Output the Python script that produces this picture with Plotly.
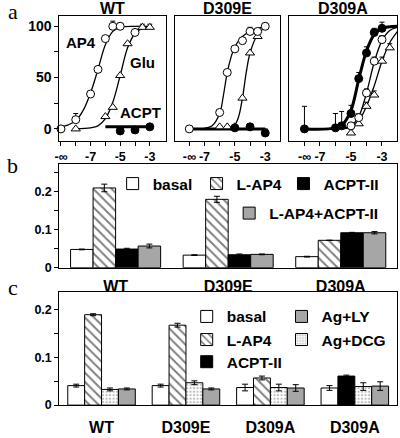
import plotly.graph_objects as go

W, H = 400, 438
def fx(p): return p / W
def fy(p): return 1 - p / H

FONT = "Liberation Sans, Arial, sans-serif"
SERIF = "Liberation Serif, Times New Roman, serif"

# ---------------- Panel a: concentration-response (log10 M; -inf at leftmost tick) ----------------
wt_ap4_x = [-9, -8, -7, -6.5, -6, -5.5, -5, -4]
wt_ap4_y = [0, 9, 34, 58, 88, 100, 100, 94]
wt_ap4_err = [0, 6, 0, 0, 0, 5, 3, 3]
wt_glu_x = [-8, -6, -5.5, -5, -4.5, -3.5, -3]
wt_glu_y = [0, 12, 21, 52, 83, 99, 99]
wt_glu_err = [0, 0, 0, 0, 0, 3, 3]
wt_acpt_x = [-5, -4, -3]
wt_acpt_y = [-2, -1, 2]
wt_ap4_fit_x = [-9, -8.5, -8, -7.5, -7, -6.5, -6, -5.5, -5, -4, -3]
wt_ap4_fit_y = [2, 4, 8, 18, 35, 58, 82, 95, 99, 100, 100]
wt_glu_fit_x = [-8, -7, -6.5, -6, -5.5, -5, -4.5, -4, -3.5, -3]
wt_glu_fit_y = [0, 1, 3, 10, 26, 52, 79, 93, 98, 99.5]
wt_acpt_fit_x = [-6, -3]
wt_acpt_fit_y = [2, 2]

e_ap4_x = [-8, -6, -5.5, -5, -4.5, -4, -3.5, -3]
e_ap4_y = [0, 16, 55, 78, 86, 95, 95, 100]
e_ap4_err = [0, 0, 0, 0, 0, 4, 0, 3]
e_glu_x = [-6, -5.5, -5, -4.5, -4, -3.5]
e_glu_y = [2, 2, 2, 30, 74, 90]
e_acpt_x = [-5, -4, -3]
e_acpt_y = [1, 2, -4]
e_acpt_err = [0, 0, 4]
e_ap4_fit_x = [-8, -7, -6.5, -6, -5.75, -5.5, -5.25, -5, -4.5, -4, -3.5, -3]
e_ap4_fit_y = [0, 0.5, 3, 15, 33, 55, 70, 80, 90, 95, 98, 100]
e_glu_fit_x = [-6, -5.5, -5, -4.75, -4.5, -4.25, -4, -3.5, -3]
e_glu_fit_y = [0, 1, 4, 12, 30, 55, 74, 92, 99]
e_acpt_fit_x = [-8, -3]
e_acpt_fit_y = [0, 0]

a_acpt_x = [-8, -6, -5.6, -5, -4.5, -4, -3.5, -3]
a_acpt_y = [0, 1, 3, 15, 49, 74, 94, 98]
a_acpt_err = [22, 14, 14, 8, 6, 6, 4, 6]
a_ap4_x = [-5, -4.5, -4, -3.5, -3, -2]
a_ap4_y = [3, 11, 35, 66, 87, 100]
a_ap4_err = [3, 4, 4, 4, 4, 0]
a_glu_x = [-5, -4.5, -4, -3.5, -3, -2.5]
a_glu_y = [-4, 5, 22, 33, 66, 79]
a_glu_err = [4, 4, 4, 4, 4, 4]
a_acpt_fit_x = [-8, -6, -5.5, -5, -4.5, -4, -3.5, -3, -2]
a_acpt_fit_y = [0, 1, 5, 18, 48, 76, 92, 98, 100]
a_ap4_fit_x = [-6, -5, -4.5, -4, -3.5, -3, -2.5, -2]
a_ap4_fit_y = [0, 3, 12, 35, 65, 86, 96, 99]
a_glu_fit_x = [-5.5, -5, -4.5, -4, -3.5, -3, -2.5, -2]
a_glu_fit_y = [0, 2, 8, 22, 42, 66, 84, 95]

wt_ticks = [-9, -8, -7, -6, -5, -4, -3]
wt_ticktext = ['-∞', '', '-7', '', '-5', '', '-3']
mut_ticks = [-8, -7, -6, -5, -4, -3]
mut_ticktext = ['-∞', '-7', '', '-5', '', '-3']

# ---------------- Panel b ----------------
b_cats = ['WT', 'D309E', 'D309A']
b_basal = [0.048, 0.033, 0.029]
b_basal_err = [0.001, 0.001, 0.001]
b_lap4 = [0.21, 0.18, 0.072]
b_lap4_err = [0.01, 0.008, 0.0]
b_acpt = [0.049, 0.034, 0.092]
b_acpt_err = [0.002, 0.002, 0.001]
b_both = [0.057, 0.035, 0.092]
b_both_err = [0.005, 0.001, 0.003]

# ---------------- Panel c ----------------
c_cats = ['WT', 'D309E', 'D309A', 'D309A']
c_basal = [0.041, 0.041, 0.037, 0.036]
c_basal_err = [0.003, 0.003, 0.007, 0.005]
c_lap4 = [0.19, 0.168, 0.057, None]
c_lap4_err = [0.002, 0.004, 0.004, 0]
c_acpt = [None, None, None, 0.061]
c_acpt_err = [0, 0, 0, 0.002]
c_dcg = [0.033, 0.047, 0.037, 0.039]
c_dcg_err = [0.003, 0.004, 0.007, 0.008]
c_ly = [0.034, 0.034, 0.036, 0.040]
c_ly_err = [0.002, 0.002, 0.007, 0.009]

fig = go.Figure()

def pts(x, y, err, symbol, fill, xa, ya):
    fig.add_trace(go.Scatter(
        x=x, y=y, mode='markers', xaxis=xa, yaxis=ya, showlegend=False, cliponaxis=False,
        marker=dict(symbol=symbol, size=8, color=fill, line=dict(color='black', width=1)),
        error_y=dict(type='data', array=err, symmetric=False, arrayminus=[0] * len(y) if err else None,
                     color='black', thickness=1, width=2.5, visible=bool(err))))

def fit(x, y, w, xa, ya):
    fig.add_trace(go.Scatter(x=x, y=y, mode='lines', xaxis=xa, yaxis=ya, showlegend=False,
                             cliponaxis=False,
                             line=dict(color='black', width=w, shape='spline', smoothing=1.0)))

# WT
fit(wt_ap4_fit_x, wt_ap4_fit_y, 1.3, 'x', 'y')
fit(wt_glu_fit_x, wt_glu_fit_y, 1.3, 'x', 'y')
fit(wt_acpt_fit_x, wt_acpt_fit_y, 3, 'x', 'y')
pts(wt_glu_x, wt_glu_y, wt_glu_err, 'triangle-up', 'white', 'x', 'y')
pts(wt_ap4_x, wt_ap4_y, wt_ap4_err, 'circle', 'white', 'x', 'y')
pts(wt_acpt_x, wt_acpt_y, None, 'circle', 'black', 'x', 'y')
# D309E
fit(e_ap4_fit_x, e_ap4_fit_y, 1.3, 'x2', 'y2')
fit(e_glu_fit_x, e_glu_fit_y, 1.3, 'x2', 'y2')
fit(e_acpt_fit_x, e_acpt_fit_y, 3, 'x2', 'y2')
pts(e_glu_x, e_glu_y, None, 'triangle-up', 'white', 'x2', 'y2')
pts(e_ap4_x, e_ap4_y, e_ap4_err, 'circle', 'white', 'x2', 'y2')
pts(e_acpt_x, e_acpt_y, e_acpt_err, 'circle', 'black', 'x2', 'y2')
# D309A
fit(a_glu_fit_x, a_glu_fit_y, 1.3, 'x3', 'y3')
fit(a_ap4_fit_x, a_ap4_fit_y, 1.3, 'x3', 'y3')
fit(a_acpt_fit_x, a_acpt_fit_y, 3, 'x3', 'y3')
pts(a_glu_x, a_glu_y, a_glu_err, 'triangle-up', 'white', 'x3', 'y3')
pts(a_ap4_x, a_ap4_y, a_ap4_err, 'circle', 'white', 'x3', 'y3')
pts(a_acpt_x, a_acpt_y, a_acpt_err, 'circle', 'black', 'x3', 'y3')

# styles
WHITE = dict(color='white', line=dict(color='black', width=1))
HATCH = dict(color='white', line=dict(color='black', width=1),
             pattern=dict(shape='\\', fgcolor='black', bgcolor='white', size=6.5, solidity=0.3))
BLACK = dict(color='black', line=dict(color='black', width=1))
GRAY = dict(color='#a6a6a6', line=dict(color='black', width=1))
DOTS = dict(color='white', line=dict(color='black', width=1),
            pattern=dict(shape='.', fgcolor='#777777', bgcolor='white', size=3.5, solidity=0.35))

def bars(name, x, y, err, marker, og, xa, ya, legend):
    fig.add_trace(go.Bar(name=name, x=x, y=y, xaxis=xa, yaxis=ya, marker=marker, offsetgroup=og,
                         legend=legend, showlegend=True,
                         error_y=dict(type='data', array=err, color='black', thickness=1, width=3)))

bx = list(range(len(b_cats)))
bars('basal', bx, b_basal, b_basal_err, WHITE, 'b1', 'x4', 'y4', 'legend')
bars('L-AP4', bx, b_lap4, b_lap4_err, HATCH, 'b2', 'x4', 'y4', 'legend2')
bars('ACPT-II', bx, b_acpt, b_acpt_err, BLACK, 'b3', 'x4', 'y4', 'legend3')
bars('L-AP4+ACPT-II', bx, b_both, b_both_err, GRAY, 'b4', 'x4', 'y4', 'legend4')

cx = list(range(len(c_cats)))
bars('basal', cx, c_basal, c_basal_err, WHITE, 'c1', 'x5', 'y5', 'legend5')
bars('L-AP4', cx, c_lap4, c_lap4_err, HATCH, 'c2', 'x5', 'y5', 'legend6')
bars('ACPT-II', cx, c_acpt, c_acpt_err, BLACK, 'c2', 'x5', 'y5', 'legend7')
bars('Ag+DCG', cx, c_dcg, c_dcg_err, DOTS, 'c3', 'x5', 'y5', 'legend9')
bars('Ag+LY', cx, c_ly, c_ly_err, GRAY, 'c4', 'x5', 'y5', 'legend8')

def axis(**kw):
    d = dict(showline=True, linecolor='black', linewidth=1, mirror=True, showgrid=False,
             zeroline=False, ticks='outside', ticklen=4, tickwidth=1, tickcolor='black',
             tickfont=dict(family=FONT, size=12.5, color='black', weight='bold'), fixedrange=True)
    d.update(kw)
    return d

ya_dom = [fy(143.3), fy(16.7)]
yr = [-11.8, 109.6]

def leg(cx_, cy_):
    return dict(x=fx(cx_ - 26), y=fy(cy_ + 4.5), xanchor='left', yanchor='middle',
                bgcolor='rgba(0,0,0,0)', borderwidth=0, itemwidth=30,
                font=dict(family=FONT, size=15.5, color='black', weight='bold'))

layout = dict(
    width=W, height=H, margin=dict(l=0, r=0, t=0, b=0),
    paper_bgcolor='white', plot_bgcolor='white',
    barmode='group', bargap=0.2, bargroupgap=0,
    xaxis=axis(domain=[fx(55), fx(163)], range=[-9.11, -1.91], anchor='y',
               tickvals=wt_ticks, ticktext=wt_ticktext),
    yaxis=axis(domain=ya_dom, range=yr, anchor='x', tickvals=[0, 25, 50, 75, 100],
               ticktext=['0', '', '50', '', '100'],
               tickfont=dict(family=FONT, size=14, color='black', weight='bold')),
    xaxis2=axis(domain=[fx(171.7), fx(278.3)], range=[-8.97, -2.04], anchor='y2',
                tickvals=mut_ticks, ticktext=mut_ticktext),
    yaxis2=axis(domain=ya_dom, range=yr, anchor='x2', showticklabels=False, ticks=''),
    xaxis3=axis(domain=[fx(288), fx(397)], range=[-8.97, -2.03], anchor='y3',
                tickvals=mut_ticks, ticktext=mut_ticktext),
    yaxis3=axis(domain=ya_dom, range=yr, anchor='x3', showticklabels=False, ticks=''),
    xaxis4=axis(domain=[fx(55), fx(397)], range=[-0.5, 2.5], anchor='y4', ticks='',
                tickvals=bx, ticktext=b_cats, ticklabelstandoff=4,
                tickfont=dict(family=FONT, size=16, color='black', weight='bold')),
    yaxis4=axis(domain=[fy(272), fy(166.7)], range=[0, 0.273], anchor='x4',
                tickvals=[0, 0.05, 0.1, 0.15, 0.2, 0.25], ticktext=['0', '', '0.1', '', '0.2', '']),
    xaxis5=axis(domain=[fx(55), fx(397)], range=[-0.5, 3.5], anchor='y5', ticks='',
                tickvals=cx, ticktext=c_cats, ticklabelstandoff=8,
                tickfont=dict(family=FONT, size=16, color='black', weight='bold')),
    yaxis5=axis(domain=[fy(411.7), fy(296.7)], range=[0, 0.2378], anchor='x5',
                tickvals=[0, 0.05, 0.1, 0.15, 0.2], ticktext=['0', '', '0.1', '', '0.2']),
    legend=leg(135, 182.5), legend2=leg(220, 182.5), legend3=leg(308, 182.5),
    legend4=leg(253, 212.5),
    legend5=leg(210, 317.5), legend6=leg(210, 341), legend7=leg(210, 363.5),
    legend8=leg(306, 317.5), legend9=leg(306, 341),
)
fig.update_layout(**layout)

ann_font = dict(family=FONT, size=16, color='black', weight='bold')
lab_font = dict(family=FONT, size=15, color='black', weight='bold')
annots = [
    dict(text='WT', xref='x domain', x=0.5, yref='paper', y=fy(8.3), font=ann_font),
    dict(text='D309E', xref='x2 domain', x=0.5, yref='paper', y=fy(8.3), font=ann_font),
    dict(text='D309A', xref='x3 domain', x=0.5, yref='paper', y=fy(8.3), font=ann_font),
    dict(text='AP4', xref='x', x=-7.65, yref='y', y=84, font=lab_font),
    dict(text='Glu', xref='x', x=-3.48, yref='y', y=65, font=lab_font),
    dict(text='ACPT', xref='x', x=-3.61, yref='y', y=16, font=lab_font),
    dict(text='a', xref='paper', x=fx(8), yref='paper', y=fy(12), font=dict(family=SERIF, size=22, color='black')),
    dict(text='b', xref='paper', x=fx(8), yref='paper', y=fy(168), font=dict(family=SERIF, size=22, color='black')),
    dict(text='c', xref='paper', x=fx(8), yref='paper', y=fy(292), font=dict(family=SERIF, size=22, color='black')),
]
for a in annots:
    a.update(showarrow=False, xanchor='center', yanchor='middle')
    fig.add_annotation(**a)

# remove the browser's default 8px body margin so the figure fills the window exactly
fig.write_html("out.html", config={'displayModeBar': False},
               post_script="document.body.style.margin='0';document.body.style.overflow='hidden';")
